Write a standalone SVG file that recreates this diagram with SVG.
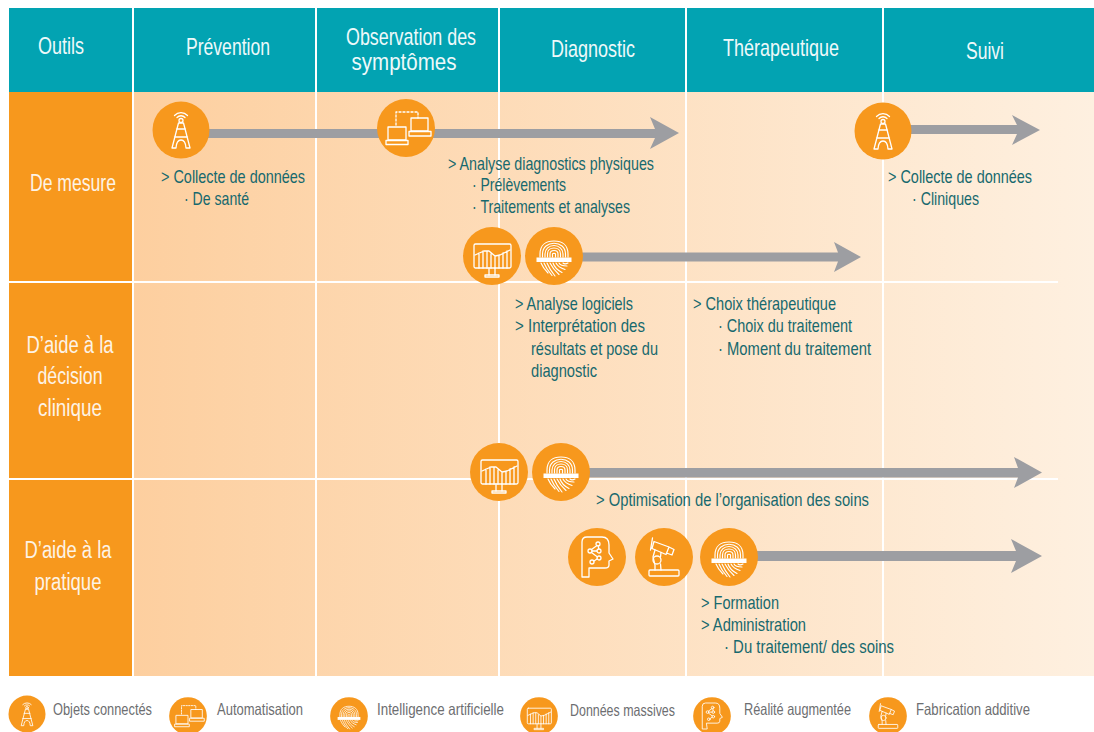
<svg xmlns="http://www.w3.org/2000/svg" width="1094" height="732" viewBox="0 0 1094 732">
<style>
text{font-family:"Liberation Sans",Arial,sans-serif}
.h{fill:#eef9fa;font-size:24px;text-anchor:middle}
.r{fill:#fdf3e6;font-size:23px;text-anchor:middle}
.t{fill:#17696e;font-size:18.500px}
.l{fill:#6d6e71;font-size:16.500px}
.g{fill:#fff}
.s{fill:none;stroke:#fff;stroke-width:1.300;stroke-linejoin:round;stroke-linecap:round}
.f{fill:none;stroke:#fff;stroke-width:1.150;stroke-linecap:round}
.c{fill:#f7981d}
.bar{fill:#9d9ea2}
.w{stroke:#fff;stroke-width:2;fill:none}
</style>
<defs>
<linearGradient id="bg" x1="133" x2="1094" y1="0" y2="0" gradientUnits="userSpaceOnUse"><stop offset="0" stop-color="#fdcf9f"/><stop offset="1" stop-color="#fef0e0"/></linearGradient>
<symbol id="tower" overflow="visible"><circle class="c" r="28.500"/><g class="s"><path d="M-4-12.500a5.500 5.500 0 0 1 8 0M-6.500-14.500a9 9 0 0 1 13 0"/><circle cy="-9.500" r="2"/><path d="M-2.500-7L-9 18H-5Q-4.500 10 0 10Q4.500 10 5 18H9L2.500-7ZM-4.500-1H4.500M-6.500 7H6.500"/></g></symbol>
<symbol id="auto" overflow="visible"><circle class="c" r="29"/><g class="s"><rect x="-18" y="-1" width="18" height="13"/><path d="M-20 12.500H2V16.500H-20Z"/><rect x="5" y="-10" width="17" height="13"/><path d="M3 3.500H25V8H3Z"/><path d="M-10-3V-16H12V-10" stroke-dasharray="2 2"/></g></symbol>
<symbol id="data" overflow="visible"><circle class="c" r="29"/><g class="s"><rect x="-18" y="-12" width="37" height="24" rx="1.500"/><path d="M-17-1L-8-5L-3-5L3 0L8-1L18-6M-13 12V-3M-9 12V-5M-5 12V-5M-1 12V-2M3 12V0M7 12V-1M11 12V-3M15 12V-5"/><path d="M-3 12V19M3 12V19"/><rect x="-7" y="19" width="14" height="2"/></g></symbol>
<symbol id="finger" overflow="visible"><circle class="c" r="29"/><g class="f"><path d="M-14 1V-2C-14-11-8-15 0-15S14-11 14-2V1M-11.500 1V-2C-11.500-9-6-12.800 0-12.800S11.500-9 11.500-2V1M-9 1V-2C-9-7-5-10.500 0-10.500S9-7 9-2V1M-6.500 1V-2C-6.500-6-3.500-8 0-8S6.500-6 6.500-2V1M-4 1V-2C-4-4.500-2-5.500 0-5.500S4-4.500 4-2V1M-1.500 1V-2C-1.500-3 1.500-3 1.500-2V1"/><path d="M-13 7C-11 12-8 15-6 17M-10 7C-8 12-5 16-2 19.500M-7 7C-5 12-3 15 1 20M-4 7C-2 11 1 15 5 18.500M-1 7C0 10 3 14 8 16.500M2 7C3 9 6 12 11 13.500M5 7C6 9 8 10 13 10M9 7C10 8 12 8 14 7"/></g><rect class="g" x="-17.500" y="1.500" width="35" height="4.500"/></symbol>
<symbol id="head" overflow="visible"><circle class="c" r="29"/><g class="s"><path d="M-8 20H-15V-15Q-15-20-10-20H5Q12-20 12-12V-4L16 2L12 4V8Q12 11 8 11H-8Z"/><circle cx="1" cy="-13" r="2"/><circle cx="-7" cy="-6" r="2"/><circle cx="2" cy="-6" r="2"/><circle cx="2" cy="1" r="2"/><circle cx="-5" cy="5" r="2"/><path d="M0-11.500L-5.500-7.500M1.300-11L1.800-8M-5-6H0M-5.500-4.500L.5 0M-3 4L0 2"/></g></symbol>
<symbol id="robot" overflow="visible"><circle class="c" r="29"/><g class="s"><rect x="-15" y="13" width="30" height="6" rx="1"/><path d="M-10-15.500L5-10L2-2.500L-12-8.500ZM-11.500-19L-13.500-7M5-10L10-7.500L8-2L2.500-4"/><path d="M-9-7L-11 0L-9 8L-9 13M-3-4.500L-3.500 0M-3.500 7L-3 13"/><circle cx="-7" cy="3" r="4"/></g></symbol>
</defs>
<rect width="1094" height="732" fill="#fff"/>
<g id="bands">
<rect x="9" y="8" width="1085" height="84" fill="#02a3b2"/>
<rect x="133" y="92" width="961" height="584" fill="url(#bg)"/>
<rect x="9" y="92" width="123" height="584" class="c"/>
</g>
<g id="grid">
<path class="w" d="M133 8V676M316 8V676M499 8V676M686 8V676M883 8V676M9 282H1058M9 479H1058"/>
</g>
<g id="connectors">
<path class="bar" d="M181 129H655L650 117L679 133L650 149L655 138H181Z"/>
<path class="bar" d="M883 125H1017L1012 115L1040 130L1012 145L1017 134H883Z"/>
<path class="bar" d="M554 252.500H838L834 242L861 257L834 272L838 261.500H554Z"/>
<path class="bar" d="M561 468H1018L1014 457L1042 472.500L1014 488L1018 477.500H561Z"/>
<path class="bar" d="M729 551H1016L1011 539L1042 556L1011 573L1016 561H729Z"/>
</g>
<g id="headers">
<text class="h" x="61" y="54" textLength="46" lengthAdjust="spacingAndGlyphs">Outils</text>
<text class="h" x="228" y="55" textLength="84" lengthAdjust="spacingAndGlyphs">Prévention</text>
<text class="h" x="411" y="45" textLength="130" lengthAdjust="spacingAndGlyphs">Observation des</text>
<text class="h" x="404" y="70" textLength="105" lengthAdjust="spacingAndGlyphs">symptômes</text>
<text class="h" x="593" y="57" textLength="84" lengthAdjust="spacingAndGlyphs">Diagnostic</text>
<text class="h" x="781" y="56" textLength="116" lengthAdjust="spacingAndGlyphs">Thérapeutique</text>
<text class="h" x="985" y="59" textLength="38" lengthAdjust="spacingAndGlyphs">Suivi</text>
</g>
<g id="rows">
<text class="r" x="73" y="191" textLength="86" lengthAdjust="spacingAndGlyphs">De mesure</text>
<text class="r" x="70" y="353" textLength="87" lengthAdjust="spacingAndGlyphs">D’aide à la</text>
<text class="r" x="70" y="384" textLength="65" lengthAdjust="spacingAndGlyphs">décision</text>
<text class="r" x="70" y="416" textLength="64" lengthAdjust="spacingAndGlyphs">clinique</text>
<text class="r" x="68" y="558" textLength="87" lengthAdjust="spacingAndGlyphs">D’aide à la</text>
<text class="r" x="68" y="590" textLength="67" lengthAdjust="spacingAndGlyphs">pratique</text>
</g>
<g id="node-collecte-sante"><use href="#tower" x="181" y="130"/>
<text class="t" x="161" y="182.800" textLength="144" lengthAdjust="spacingAndGlyphs">&gt; Collecte de données</text>
<text class="t" x="184" y="204.800" textLength="65" lengthAdjust="spacingAndGlyphs">· De santé</text></g>
<g id="node-analyse-physique"><use href="#auto" x="406" y="128"/>
<text class="t" x="448" y="169.500" textLength="206" lengthAdjust="spacingAndGlyphs">&gt; Analyse diagnostics physiques</text>
<text class="t" x="472" y="190.800" textLength="94" lengthAdjust="spacingAndGlyphs">· Prélèvements</text>
<text class="t" x="472" y="212.800" textLength="158" lengthAdjust="spacingAndGlyphs">· Traitements et analyses</text></g>
<g id="node-collecte-clinique"><use href="#tower" x="883" y="131"/>
<text class="t" x="888" y="182.800" textLength="144" lengthAdjust="spacingAndGlyphs">&gt; Collecte de données</text>
<text class="t" x="912" y="204.800" textLength="67" lengthAdjust="spacingAndGlyphs">· Cliniques</text></g>
<g id="node-analyse-logiciels"><use href="#data" x="492" y="256"/><use href="#finger" x="554" y="256"/>
<text class="t" x="515" y="309.800" textLength="118" lengthAdjust="spacingAndGlyphs">&gt; Analyse logiciels</text>
<text class="t" x="515" y="331.800" textLength="130" lengthAdjust="spacingAndGlyphs">&gt; Interprétation des</text>
<text class="t" x="531" y="354.500" textLength="127" lengthAdjust="spacingAndGlyphs">résultats et pose du</text>
<text class="t" x="531" y="376.800" textLength="66" lengthAdjust="spacingAndGlyphs">diagnostic</text></g>
<g id="node-choix">
<text class="t" x="693" y="309.800" textLength="143" lengthAdjust="spacingAndGlyphs">&gt; Choix thérapeutique</text>
<text class="t" x="718" y="331.800" textLength="134" lengthAdjust="spacingAndGlyphs">· Choix du traitement</text>
<text class="t" x="718" y="354.500" textLength="153" lengthAdjust="spacingAndGlyphs">· Moment du traitement</text></g>
<g id="node-optimisation"><use href="#data" x="499" y="472"/><use href="#finger" x="561" y="472"/>
<text class="t" x="596" y="505.800" textLength="273" lengthAdjust="spacingAndGlyphs">&gt; Optimisation de l’organisation des soins</text></g>
<g id="node-formation"><use href="#head" x="597" y="557"/><use href="#robot" x="664" y="557"/><use href="#finger" x="729" y="557"/>
<text class="t" x="701" y="608.800" textLength="78" lengthAdjust="spacingAndGlyphs">&gt; Formation</text>
<text class="t" x="701" y="630.800" textLength="105" lengthAdjust="spacingAndGlyphs">&gt; Administration</text>
<text class="t" x="724" y="652.800" textLength="170" lengthAdjust="spacingAndGlyphs">· Du traitement/ des soins</text></g>
<g id="legend">
<use href="#tower" transform="translate(27 714) scale(.65)"/><text class="l" x="53" y="715" textLength="99" lengthAdjust="spacingAndGlyphs">Objets connectés</text>
<use href="#auto" transform="translate(188 716) scale(.65)"/><text class="l" x="217" y="715" textLength="86" lengthAdjust="spacingAndGlyphs">Automatisation</text>
<use href="#finger" transform="translate(349 716) scale(.65)"/><text class="l" x="377" y="715" textLength="127" lengthAdjust="spacingAndGlyphs">Intelligence artificielle</text>
<use href="#data" transform="translate(539 716) scale(.65)"/><text class="l" x="570" y="716" textLength="105" lengthAdjust="spacingAndGlyphs">Données massives</text>
<use href="#head" transform="translate(712 716) scale(.65)"/><text class="l" x="744" y="715" textLength="107" lengthAdjust="spacingAndGlyphs">Réalité augmentée</text>
<use href="#robot" transform="translate(888 716) scale(.65)"/><text class="l" x="916" y="715" textLength="114" lengthAdjust="spacingAndGlyphs">Fabrication additive</text>
</g>
</svg>
